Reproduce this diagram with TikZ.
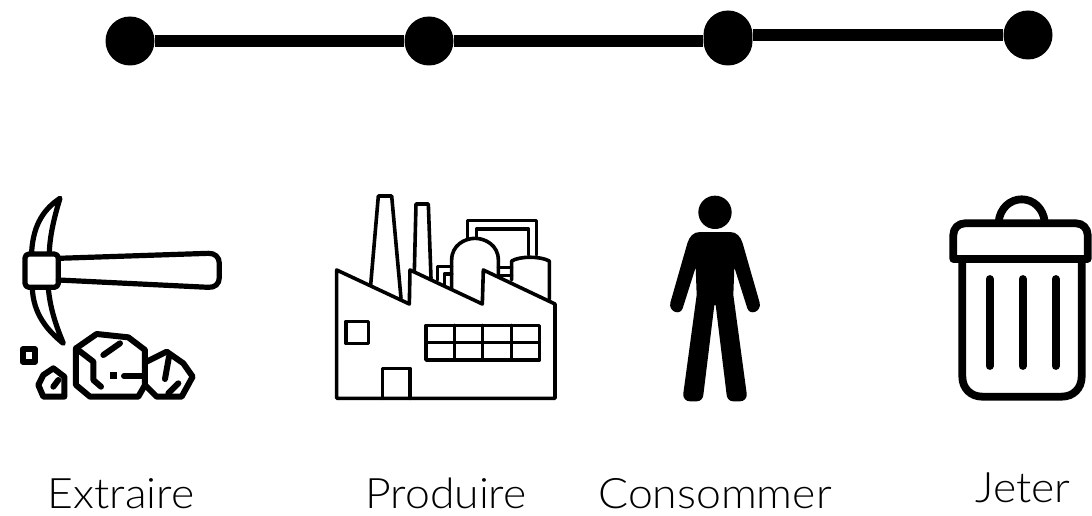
\documentclass[tikz,border=0pt]{standalone}
\usepackage{fontspec}
\setmainfont{Lato}[UprightFont=* Light,FakeStretch=1.06]
\tikzset{
  dot/.style={circle,fill=black,inner sep=0pt,minimum size=49pt},
  link/.style={line width=12pt},
  lab/.style={anchor=base,inner sep=0pt,font=\fontsize{42pt}{42pt}\selectfont},
  ico/.style={line join=round,line cap=round},
  px/.style={x=0.33333pt,y=-0.33333pt}
}
\begin{document}
\begin{tikzpicture}[x=1pt,y=-1pt]
\useasboundingbox (0,0) rectangle (1092,516);
% timeline
\node[dot] (a) at (130,41) {};
\node[dot] (b) at (429,41) {};
\node[dot] (c) at (728,41) {};
\node[dot] (e) at (728,35) {};
\node[dot] (d) at (1028,35) {};
\draw[link] (a) -- (b);
\draw[link] (b) -- (c);
\draw[link] (e) -- (d);
% labels
\node[lab] (l1) at (121,508.5) {Extraire};
\node[lab] (l2) at (446,508.5) {Produire};
\node[lab] (l3) at (715,508.5) {Consommer};
\node[lab] (l4) at (1023,502.5) {Jeter};
% pickaxe
\begin{scope}[xshift=0pt,yshift=-180pt,px,ico,line width=5.2pt]
\draw[rounded corners=4pt] (75,222) rectangle (175,322);
\draw (175,235) -- (625,220) .. controls (645,219) and (658,232) .. (658,250) -- (658,292) .. controls (658,312) and (645,323) .. (625,322) -- (175,300);
\draw (95,215) .. controls (100,130) and (135,85) .. (180,55) .. controls (160,120) and (150,170) .. (148,215);
\draw (97,325) .. controls (100,400) and (140,450) .. (190,490) .. controls (165,430) and (150,380) .. (145,325);
\begin{scope}[line width=6pt]
\draw (68,508) rectangle (105,545);
\draw (160,565) -- (193,590) -- (193,650) -- (130,650) -- (115,615) -- (130,585) -- cycle;
\draw (160,620) -- (175,600);
\draw (290,462) -- (385,472) -- (435,510) -- (435,615) -- (415,650) -- (270,650) -- (228,615) -- (228,505) -- cycle;
\draw (228,505) -- (280,545) -- (280,600) -- (303,620);
\draw (310,525) -- (360,490);
\fill (330,576) rectangle (351,597);
\draw (372,588) -- (435,588);
\draw (440,545) -- (500,515) -- (550,550) -- (578,590) -- (545,650) -- (470,650) -- (435,615);
\draw (507,530) -- (495,597);
\draw (505,640) -- (535,610);
\end{scope}
\end{scope}
% factory
\begin{scope}[xshift=320pt,yshift=-180pt,px,ico,line width=3.6pt]
\draw (50,270) -- (268,372) -- (270,270) -- (487,372) -- (490,270) -- (705,372) -- (705,655) -- (50,655) -- cycle;
\draw (152,315) -- (175,48) -- (215,48) -- (243,355);
\draw (283,275) -- (288,72) -- (325,72) -- (333,295);
\draw (78,424) rectangle (146,490);
\draw (187,655) -- (187,565) -- (270,565) -- (270,655);
\draw (318,436) rectangle (658,540);
\draw (318,488) -- (658,488);
\draw (403,436) -- (403,540) (488,436) -- (488,540) (575,436) -- (575,540);
\draw (395,325) -- (395,240) .. controls (395,195) and (435,175) .. (465,175) .. controls (495,175) and (535,195) .. (535,240) -- (535,290);
\draw (443,175) -- (443,122) -- (650,122) -- (650,225);
\draw (470,170) -- (470,147) -- (625,147) -- (625,225);
\draw (575,300) -- (575,243) .. controls (600,228) and (660,228) .. (688,243) -- (688,358);
\draw (352,300) -- (352,260) -- (395,260);
\draw (373,318) -- (373,282) -- (395,282);
\draw (535,262) -- (575,262);
\draw (535,287) -- (575,287);
\end{scope}
% person
\begin{scope}[xshift=650pt,yshift=-180pt,px]
\fill (195,97) circle[radius=16.67pt];
\fill (150,156) -- (240,156) .. controls (260,156) and (272,170) .. (278,190) -- (329,368)
 .. controls (335,395) and (300,408) .. (292,385) -- (253,262) -- (250,345) -- (290,640)
 .. controls (292,655) and (282,664) .. (270,664) -- (250,664) .. controls (238,664) and (231,655) .. (230,645)
 -- (197,375) -- (193,375) -- (160,645) .. controls (159,655) and (152,664) .. (140,664) -- (120,664)
 .. controls (108,664) and (98,655) .. (100,640) -- (140,345) -- (137,262) -- (98,385)
 .. controls (90,408) and (55,395) .. (61,368) -- (112,190) .. controls (118,170) and (130,156) .. (150,156) -- cycle;
\end{scope}
% bin
\begin{scope}[xshift=650pt,yshift=-180pt,px,ico,line width=7.8pt]
\draw (1046,125) .. controls (1050,85) and (1080,58) .. (1115,58) .. controls (1150,58) and (1180,85) .. (1184,125);
\draw (910,237) -- (910,165) .. controls (910,145) and (925,130) .. (945,130) -- (1278,130) .. controls (1298,130) and (1313,145) .. (1313,165) -- (1313,237) -- cycle;
\draw (937,237) -- (937,590) .. controls (937,625) and (962,650) .. (997,650) -- (1235,650) .. controls (1270,650) and (1295,625) .. (1295,590) -- (1295,237);
\draw (1019,297) -- (1019,558);
\draw (1118,297) -- (1118,558);
\draw (1217,297) -- (1217,558);
\end{scope}
\end{tikzpicture}
\end{document}
